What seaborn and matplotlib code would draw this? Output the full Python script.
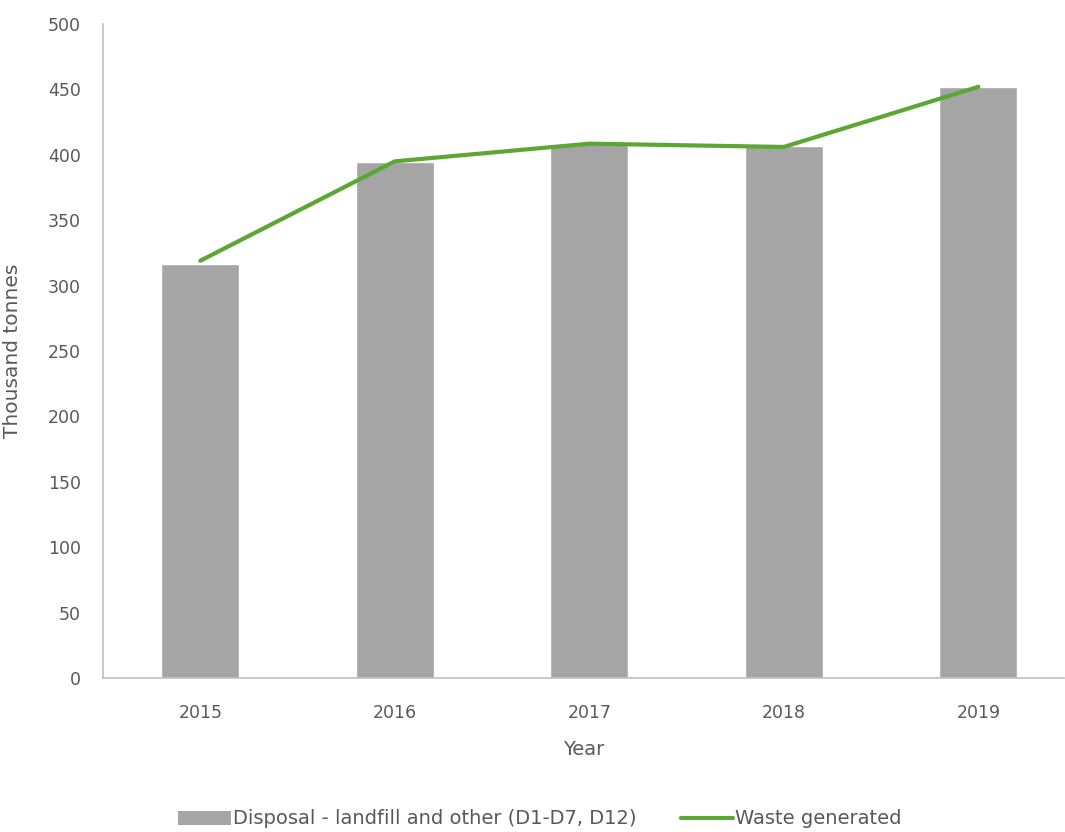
import matplotlib
matplotlib.use("Agg")
import matplotlib.pyplot as plt
import seaborn as sns
import pandas as pd
from matplotlib.patches import Patch
from matplotlib.lines import Line2D

years = ["2015", "2016", "2017", "2018", "2019"]
disposal = [316.5, 394.5, 408, 406.5, 451.5]
waste_generated = [319, 395, 408.5, 406, 452]
bar_label = "Disposal - landfill and other (D1-D7, D12)"
line_label = "Waste generated"

df = pd.DataFrame({"Year": years, "Disposal": disposal, "Waste": waste_generated})

sns.set_theme(style="white")
plt.rcParams["font.family"] = ["DejaVu Sans"]
text_col = "#595959"
axis_col = "#bfbfbf"
bar_col = "#a5a5a5"
line_col = "#5ca633"

fig = plt.figure(figsize=(10.65, 8.32), dpi=100)
ax = fig.add_axes([103/1065, (832-678)/832, (1064-103)/1065, (678-24)/832])

sns.barplot(data=df, x="Year", y="Disposal", color=bar_col, width=0.4,
            saturation=1, ax=ax, order=years)
sns.lineplot(data=df, x="Year", y="Waste", color=line_col, linewidth=3,
             sort=False, ax=ax)

ax.set_ylim(0, 500)
ax.set_yticks(range(0, 501, 50))
ax.set_xlim(-0.5, 4.44)
ax.set_xlabel("Year", fontsize=14, color=text_col, labelpad=13)
ax.set_ylabel("Thousand tonnes", fontsize=14.5, color=text_col)
ax.yaxis.set_label_coords((22 - 103) / 961, 0.5)
ax.tick_params(axis="both", length=0, labelsize=12.5, labelcolor=text_col)
ax.tick_params(axis="x", pad=19)
ax.tick_params(axis="y", pad=16)
for s in ["top", "right"]:
    ax.spines[s].set_visible(False)
for s in ["left", "bottom"]:
    ax.spines[s].set_color(axis_col)
    ax.spines[s].set_linewidth(1.2)

handles = [Patch(facecolor=bar_col, edgecolor="none", label=bar_label),
           Line2D([0], [0], color=line_col, linewidth=3, label=line_label)]
fig.legend(handles=handles, loc="center", bbox_to_anchor=(0.507, 1 - 819/832), ncol=2,
           frameon=False, fontsize=14, labelcolor=text_col, columnspacing=2.3,
           handlelength=2.7, handletextpad=0.1)

fig.savefig("out.png", dpi=100)
